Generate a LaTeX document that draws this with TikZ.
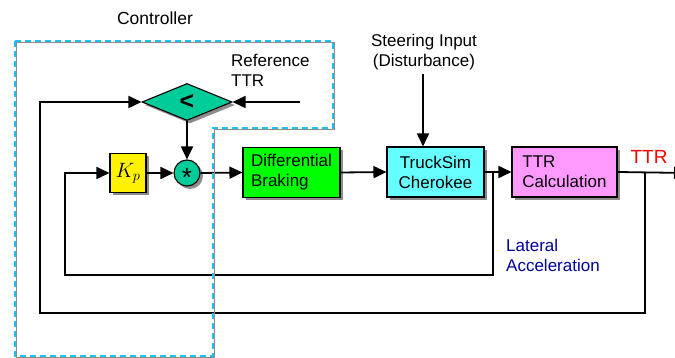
\documentclass[tikz,border=0pt]{standalone}
\usepackage{fontspec}
\setmainfont{Liberation Sans}
\usetikzlibrary{shapes.geometric,arrows.meta,shadows}
\definecolor{tealbox}{HTML}{00CC99}
\definecolor{cyanbox}{HTML}{66FFFF}
\definecolor{pinkbox}{HTML}{FF99FF}
\definecolor{greenbox}{HTML}{00FF00}
\definecolor{navytext}{HTML}{000099}
\definecolor{dashcyan}{HTML}{1EC0F0}
\definecolor{dashgray}{HTML}{8C8C8C}
\begin{document}
\begin{tikzpicture}[x=1pt,y=-1pt,
  font=\fontsize{17}{20}\selectfont,
  conn/.style={line width=1.8pt,-{Triangle[length=13pt,width=12pt]}},
  shad/.style={drop shadow={shadow xshift=3pt,shadow yshift=-3pt,fill=gray!90,opacity=1}},
  blk/.style={draw=black,line width=1.1pt,minimum height=50pt,align=left,inner sep=0pt,shad},
  dia/.style={diamond,draw=black,line width=1.1pt,fill=tealbox,minimum width=90pt,minimum height=37pt,inner sep=0pt,shad},
  circ/.style={circle,draw=black,line width=1.1pt,fill=tealbox,minimum size=26pt,inner sep=0pt,shad},
  lbl/.style={inner sep=0pt}
]
\useasboundingbox (0,0) rectangle (675,358);
\clip (0,0) rectangle (675,358);

% blocks
\node[dia] (cmp) at (187,102) {\fontsize{25}{25}\selectfont\textbf{<}};
\node[blk,fill=yellow,minimum width=36pt,minimum height=39pt,align=center] (kp) at (128,173) {\fontsize{21}{21}\selectfont$K_p$};
\node[circ] (mul) at (187,173) {\fontsize{26}{26}\selectfont\raisebox{-13.5pt}[0pt][0pt]{*}};
\node[blk,fill=greenbox,minimum width=97pt] (db) at (291.5,172.5) {Differential\\Braking};
\node[blk,fill=cyanbox,minimum width=97pt,align=center] (ts) at (435.5,172) {TruckSim\\Cherokee};
\node[blk,fill=pinkbox,minimum width=105pt] (ttr) at (564.5,172) {TTR\\Calculation};

% labels
\node[lbl,font=\fontsize{17.5}{21}\selectfont] (ctrl) at (155,18) {Controller};
\node[lbl,anchor=west,align=left] (ref) at (231,70) {Reference\\TTR};
\node[lbl,align=center] (steer) at (424,52) {Steering Input\\(Disturbance)};
\node[lbl,text=red,font=\fontsize{19}{20}\selectfont] (outl) at (649,157) {TTR};
\node[lbl,anchor=west,align=left,text=navytext] (lat) at (506,255) {Lateral\\Acceleration};

% coordinates
\coordinate (refin) at (300,102);
\coordinate (lt) at (40,102);
\coordinate (lb) at (40,313);
\coordinate (rb) at (645,313);
\coordinate (rj) at (645,173);
\coordinate (it) at (65,173);
\coordinate (ib) at (65,275);
\coordinate (jb) at (493,275);
\coordinate (jj) at (493,173);
\coordinate (outend) at (687,173);
\coordinate (steerin) at (423,74);

% connectors
\draw[conn] (refin) -- (cmp.east);
\draw[conn] (rj) -- (rb) -- (lb) -- (lt) -- (cmp.west);
\draw[conn] (cmp.south) -- (mul.north);
\draw[conn] (jj) -- (jb) -- (ib) -- (it) -- (kp.west);
\draw[conn] (kp.east) -- (mul.west);
\draw[conn] (mul.east) -- (db.west);
\draw[conn] (db.east) -- (ts.west);
\draw[conn] (ts.east) -- (ttr.west);
\draw[conn] (ttr.east) -- (outend);
\draw[conn] (steerin) -- (steerin |- ts.north);

% controller boundary
\draw[dashgray,line width=1.2pt,shift={(1.5,1.5)}] (15,41) -- (333,41) -- (333,128) -- (213,128) -- (213,356) -- (15,356) -- cycle;
\draw[dashcyan,line width=2pt,dash pattern=on 6pt off 4pt] (15,41) -- (333,41) -- (333,128) -- (213,128) -- (213,356) -- (15,356) -- cycle;
\end{tikzpicture}
\end{document}
